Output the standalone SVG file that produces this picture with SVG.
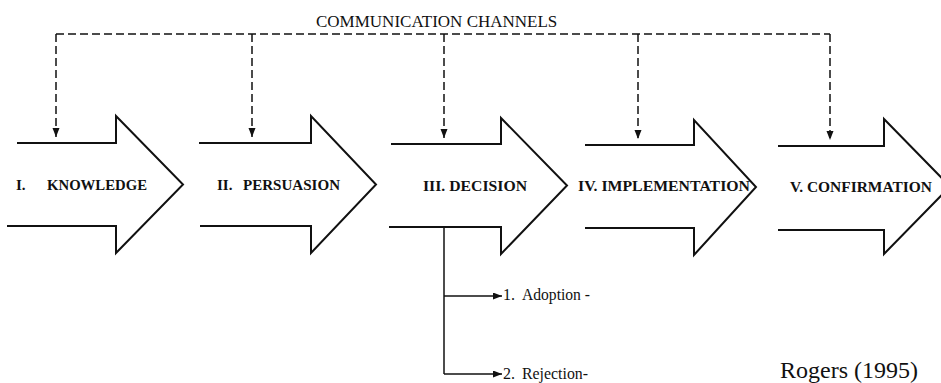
<svg xmlns="http://www.w3.org/2000/svg" width="941" height="383" viewBox="0 0 941 383">
<style>
.stage{fill:none;stroke:#111;stroke-width:2;stroke-linejoin:miter}
.lbl{font-family:"Liberation Serif","DejaVu Serif",serif;font-weight:bold;font-size:15px;fill:#111}
.txt{font-family:"Liberation Serif","DejaVu Serif",serif;fill:#111}
.dash{fill:none;stroke:#111;stroke-width:1.5;stroke-dasharray:8 4}
.solid{fill:none;stroke:#111;stroke-width:1.5}
</style>
<defs>
<marker id="ah" markerUnits="userSpaceOnUse" markerWidth="10" markerHeight="8" refX="9" refY="3.5" orient="auto">
<path d="M0,0 L9,3.5 L0,7 Z" fill="#111"/>
</marker>
</defs>
<rect width="941" height="383" fill="#fff"/>
<text class="txt" x="316" y="27" font-size="17">COMMUNICATION CHANNELS</text>
<g id="knowledge">
<path class="stage" d="M17,143 H116 V116 L183,184.5 L116,253 V226 H7"/>
<text class="lbl" y="190"><tspan x="16">I.</tspan><tspan x="47" textLength="100" lengthAdjust="spacingAndGlyphs">KNOWLEDGE</tspan></text>
</g>
<g id="persuasion">
<path class="stage" d="M199,143 H311 V116 L376,184.5 L311,253 V226 H200"/>
<text class="lbl" y="190"><tspan x="217">II.</tspan><tspan x="243" textLength="97" lengthAdjust="spacingAndGlyphs">PERSUASION</tspan></text>
</g>
<g id="decision">
<path class="stage" d="M391,144 H501 V118 L567,185.5 L501,254 V227 H389"/>
<text class="lbl" x="423" y="191" textLength="104" lengthAdjust="spacingAndGlyphs">III. DECISION</text>
</g>
<g id="implementation">
<path class="stage" d="M585,145 H694 V120 L756,187 L694,255 V228 H585"/>
<text class="lbl" x="578" y="191" textLength="172" lengthAdjust="spacingAndGlyphs">IV. IMPLEMENTATION</text>
</g>
<g id="confirmation">
<path class="stage" d="M778,146 H884 V119 L950,186.5 L884,254 V230 H778"/>
<text class="lbl" x="790" y="192" textLength="142" lengthAdjust="spacingAndGlyphs">V. CONFIRMATION</text>
</g>
<g id="adoption">
<text class="txt" y="300" font-size="16"><tspan x="503">1.</tspan><tspan x="522" textLength="68" lengthAdjust="spacingAndGlyphs">Adoption -</tspan></text>
</g>
<g id="rejection">
<text class="txt" y="379" font-size="16"><tspan x="503">2.</tspan><tspan x="522" textLength="66" lengthAdjust="spacingAndGlyphs">Rejection-</tspan></text>
</g>
<g id="connectors">
<path class="dash" d="M56,34 H830"/>
<path class="dash" d="M56,34 V137" marker-end="url(#ah)"/>
<path class="dash" d="M252,34 V137" marker-end="url(#ah)"/>
<path class="dash" d="M444,34 V138" marker-end="url(#ah)"/>
<path class="dash" d="M638,34 V139" marker-end="url(#ah)"/>
<path class="dash" d="M830,34 V140" marker-end="url(#ah)"/>
<path class="solid" d="M444,228 V374"/>
<path class="solid" d="M444,296 H502" marker-end="url(#ah)"/>
<path class="solid" d="M444,374 H502" marker-end="url(#ah)"/>
</g>
<text class="txt" x="780" y="378" font-size="24">Rogers (1995)</text>
</svg>
